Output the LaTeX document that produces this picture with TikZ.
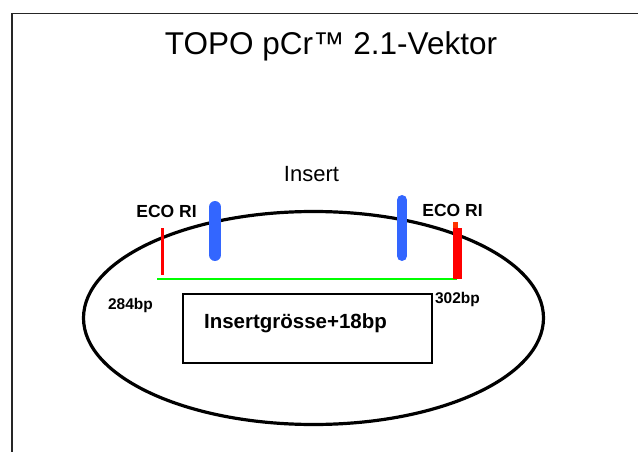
\documentclass[tikz,border=0pt]{standalone}
\usepackage{fontspec}
\setmainfont{Liberation Sans}
\definecolor{barblue}{HTML}{3366FF}
\definecolor{linegreen}{HTML}{00FF00}
\definecolor{topred}{HTML}{FF3300}
\tikzset{
  lbl/.style={anchor=base, inner sep=0pt, font=\bfseries},
  bluebar/.style={draw=barblue, line cap=round},
}
\begin{document}
\begin{tikzpicture}[x=1pt,y=-1pt]
\useasboundingbox (0,0) rectangle (638,452);
% frame
\draw[line width=1.6pt, black!85] (12,452) |- (638,13.5);
% title
\node[anchor=base, inner sep=0pt, font=\fontsize{31.5}{33}\selectfont] (title) at (331,55) {TOPO pCr™ 2.1-Vektor};
% ellipse
\draw[line width=3.2pt] (313.5,318) ellipse [x radius=230, y radius=106.5];
% insert label
\node[anchor=base, inner sep=0pt, font=\fontsize{22}{24}\selectfont] (ins) at (311.5,182) {Insert};
% green insert line
\coordinate (gl) at (157,279);
\coordinate (gr) at (457,279);
\draw[linegreen, line width=2.2pt] (gl) -- (gr);
% left red EcoRI site
\draw[red, line width=3pt] (162.5,228) -- (162.5,275);
% right red EcoRI site
\fill[red] (453,228) rectangle (462,279);
\fill[topred] (453,222) rectangle (458,228);
% blue bars
\draw[bluebar, line width=12pt] (215,207) -- (215,255);
\draw[bluebar, line width=10pt] (402,200) -- (402,256);
% labels
\node[lbl, font=\bfseries\fontsize{17.5}{19}\selectfont] (ecol) at (166.5,217) {ECO RI};
\node[lbl, font=\bfseries\fontsize{17.5}{19}\selectfont] (ecor) at (452.5,216) {ECO RI};
\node[lbl, font=\bfseries\fontsize{15.5}{17}\selectfont] (bpl) at (130.5,309) {284bp};
\node[lbl, font=\bfseries\fontsize{15.5}{17}\selectfont] (bpr) at (457.5,303) {302bp};
% box
\draw[line width=1.4pt] (183,294) rectangle (432,363);
\node[lbl, font=\bfseries\fontsize{20.5}{22}\selectfont] (size) at (295.5,328) {Insertgrösse+18bp};
\end{tikzpicture}
\end{document}
